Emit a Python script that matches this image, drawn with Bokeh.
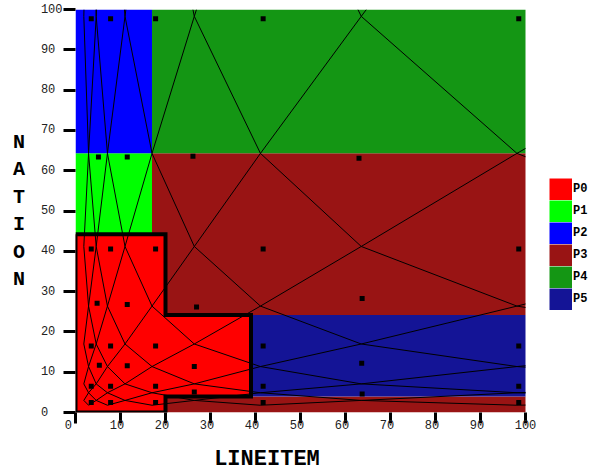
from bokeh.plotting import figure
from bokeh.models import Range1d, FixedTicker, Legend, LegendItem
from bokeh.embed import file_html
from bokeh.resources import INLINE

# ---------------- data ----------------
partitions = ["P0", "P1", "P2", "P3", "P4", "P5"]
part_colors = ["#ff0000", "#00ff00", "#0000ff", "#991414", "#149614", "#141496"]

# rectangles of each partition: left, right, bottom, top (data units)
# (P3 lies underneath P0, which is drawn over it)
p0_left, p0_right, p0_bottom, p0_top = [0, 20], [20, 39], [0, 4.0], [44.2, 24.2]
p1_left, p1_right, p1_bottom, p1_top = [0], [17.0], [44.2], [64.3]
p2_left, p2_right, p2_bottom, p2_top = [0], [17.0], [64.3], [100]
p3_left, p3_right, p3_bottom, p3_top = [17.0, 20], [100, 100], [24.2, 0], [64.3, 4.0]
p4_left, p4_right, p4_bottom, p4_top = [17.0], [100], [64.3], [100]
p5_left, p5_right, p5_bottom, p5_top = [39], [100], [4.0], [24.2]

# sample points (black squares)
pt_x = [3.5, 7.8, 17.8, 41.7, 98.5,
        3.5, 7.8, 17.8, 41.7, 98.5,
        3.5, 7.8, 17.8, 41.7, 98.5,
        3.5, 7.8, 17.8, 41.7, 98.5,
        3.5, 7.8, 17.8, 41.7, 98.5,
        5.1, 11.5, 26.1, 63.0,
        4.8, 11.5, 26.9, 63.7,
        5.3, 11.5, 26.4, 63.6,
        26.4, 63.7]
pt_y = [97.7, 97.7, 97.7, 97.7, 97.7,
        40.6, 40.6, 40.6, 40.6, 40.6,
        16.5, 16.5, 16.5, 16.5, 16.5,
        6.5, 6.5, 6.5, 6.5, 6.5,
        2.5, 2.5, 2.5, 2.5, 2.5,
        63.4, 63.4, 63.6, 63.1,
        27.1, 26.8, 26.2, 28.3,
        11.7, 11.6, 11.4, 12.2,
        5.1, 4.6]

# mesh node coordinates (diagonal lattice)
mesh_x = [1.85, 2.9, 4.6, 7.1, 11.0, 17.0, 26.4, 41.1, 63.5, 98.1, 151.0]
mesh_y = [150.0, 98.3, 64.3, 41.2, 26.4, 17.0, 11.4, 7.1, 4.9, 3.0, 1.8]

tick_values = [0, 10, 20, 30, 40, 50, 60, 70, 80, 90, 100]

# ---------------- helpers ----------------
def clip_segment(x0, y0, x1, y1, lo=0.0, hi=100.0):
    dx, dy = x1 - x0, y1 - y0
    t0, t1 = 0.0, 1.0
    for p_, q in ((-dx, x0 - lo), (dx, hi - x0), (-dy, y0 - lo), (dy, hi - y0)):
        if p_ == 0:
            if q < 0:
                return None
        else:
            r = q / p_
            if p_ < 0:
                t0 = max(t0, r)
            else:
                t1 = min(t1, r)
    if t0 > t1:
        return None
    return (x0 + t0 * dx, y0 + t0 * dy, x0 + t1 * dx, y0 + t1 * dy)

seg_x0, seg_y0, seg_x1, seg_y1 = [], [], [], []
for i in range(len(mesh_x) - 1):
    for j in range(len(mesh_y)):
        if (i + j) % 2 == 1:
            for dj in (-1, 1):
                jj = j + dj
                if 0 <= jj < len(mesh_y):
                    c = clip_segment(mesh_x[i], mesh_y[j], mesh_x[i + 1], mesh_y[jj])
                    if c:
                        seg_x0.append(c[0]); seg_y0.append(c[1])
                        seg_x1.append(c[2]); seg_y1.append(c[3])

# outline of the P0 region, built from its two rectangles
ol_x = [p0_left[0], p0_right[0], p0_right[0], p0_right[1], p0_right[1], p0_left[1], p0_left[1], p0_left[0], p0_left[0]]
ol_y = [p0_top[0], p0_top[0], p0_top[1], p0_top[1], p0_bottom[1], p0_bottom[1], p0_bottom[0], p0_bottom[0], p0_top[0]]

# ---------------- figure ----------------
# data area 0..100 spans px 75..525; frame extends to the right edge to host the legend
p = figure(width=590, height=475, output_backend="svg", toolbar_location=None,
           x_range=Range1d(0, 515 / 4.5), y_range=Range1d(0, 100),
           min_border_left=75, min_border_right=0, min_border_top=9, min_border_bottom=63)
p.title.visible = False
p.outline_line_color = None
p.grid.visible = False
p.background_fill_color = "white"
p.border_fill_color = "white"

rects = {
    "P1": (p1_left, p1_right, p1_bottom, p1_top),
    "P2": (p2_left, p2_right, p2_bottom, p2_top),
    "P3": (p3_left, p3_right, p3_bottom, p3_top),
    "P4": (p4_left, p4_right, p4_bottom, p4_top),
    "P5": (p5_left, p5_right, p5_bottom, p5_top),
}
color_of = dict(zip(partitions, part_colors))
for name in ["P3", "P4", "P5", "P1", "P2"]:
    l, r, b, t = rects[name]
    p.quad(left=l, right=r, bottom=b, top=t, fill_color=color_of[name], line_color=None)
# P0 (union of its two rectangles) as a single shape
p.patch(ol_x, ol_y, fill_color=color_of["P0"], line_color=None)

p.segment(seg_x0, seg_y0, seg_x1, seg_y1, line_color="black", line_width=1)

p.line(ol_x, ol_y, line_color="black", line_width=4, line_join="miter")

p.scatter(pt_x, pt_y, marker="square", size=5, fill_color="black", line_color=None)

# legend swatches (solid blocks)
nan = float("nan")
swatches = [p.line(x=[nan], y=[nan], line_color=col, line_width=22, line_cap="butt")
            for col in part_colors]
items = [LegendItem(label=name, renderers=[r]) for name, r in zip(partitions, swatches)]
legend = Legend(items=items, location=(474, 102), orientation="vertical",
                glyph_width=23, glyph_height=22, spacing=0, padding=0, margin=0,
                label_standoff=1, border_line_color=None, background_fill_alpha=0,
                label_text_font="Liberation Mono", label_text_font_style="bold",
                label_text_font_size="12px", label_text_color="black")
p.add_layout(legend)

# axes
NBSP = "\u00a0"
for ax in (p.xaxis, p.yaxis):
    ax.ticker = FixedTicker(ticks=tick_values)
    ax.axis_line_color = None
    ax.major_tick_line_color = "black"
    ax.major_tick_line_width = 3
    ax.major_tick_in = 0
    ax.minor_tick_line_color = None
    ax.major_label_text_font = "Liberation Mono"
    ax.major_label_text_font_size = "12px"
    ax.major_label_text_color = "#222222"
p.xaxis.major_tick_out = 11
p.xaxis.major_label_standoff = -5
p.yaxis.major_tick_out = 12
p.yaxis.major_label_standoff = 1
# labels start at a fixed column, as in the original
p.xaxis.major_label_overrides = {v: str(v) + NBSP * (3 - len(str(v))) for v in tick_values}
p.yaxis.major_label_overrides = {v: str(v) + NBSP * (3 - len(str(v))) for v in tick_values}

p.yaxis.axis_label = "N\nA\nT\nI\nO\nN"
p.yaxis.axis_label_orientation = "horizontal"
p.yaxis.axis_label_standoff = 13
p.yaxis.axis_label_text_font = "Liberation Mono"
p.yaxis.axis_label_text_font_style = "bold"
p.yaxis.axis_label_text_font_size = "20px"
p.yaxis.axis_label_text_line_height = 1.19
p.yaxis.axis_label_text_color = "black"

# x title sits left of the frame centre in the original: pad it on the right
p.xaxis.axis_label = "LINEITEM" + NBSP * 10
p.xaxis.axis_label_standoff = 11
p.xaxis.axis_label_text_font = "Liberation Mono"
p.xaxis.axis_label_text_font_style = "bold"
p.xaxis.axis_label_text_font_size = "22px"
p.xaxis.axis_label_text_color = "black"

open("out.html", "w").write(file_html(p, INLINE))
